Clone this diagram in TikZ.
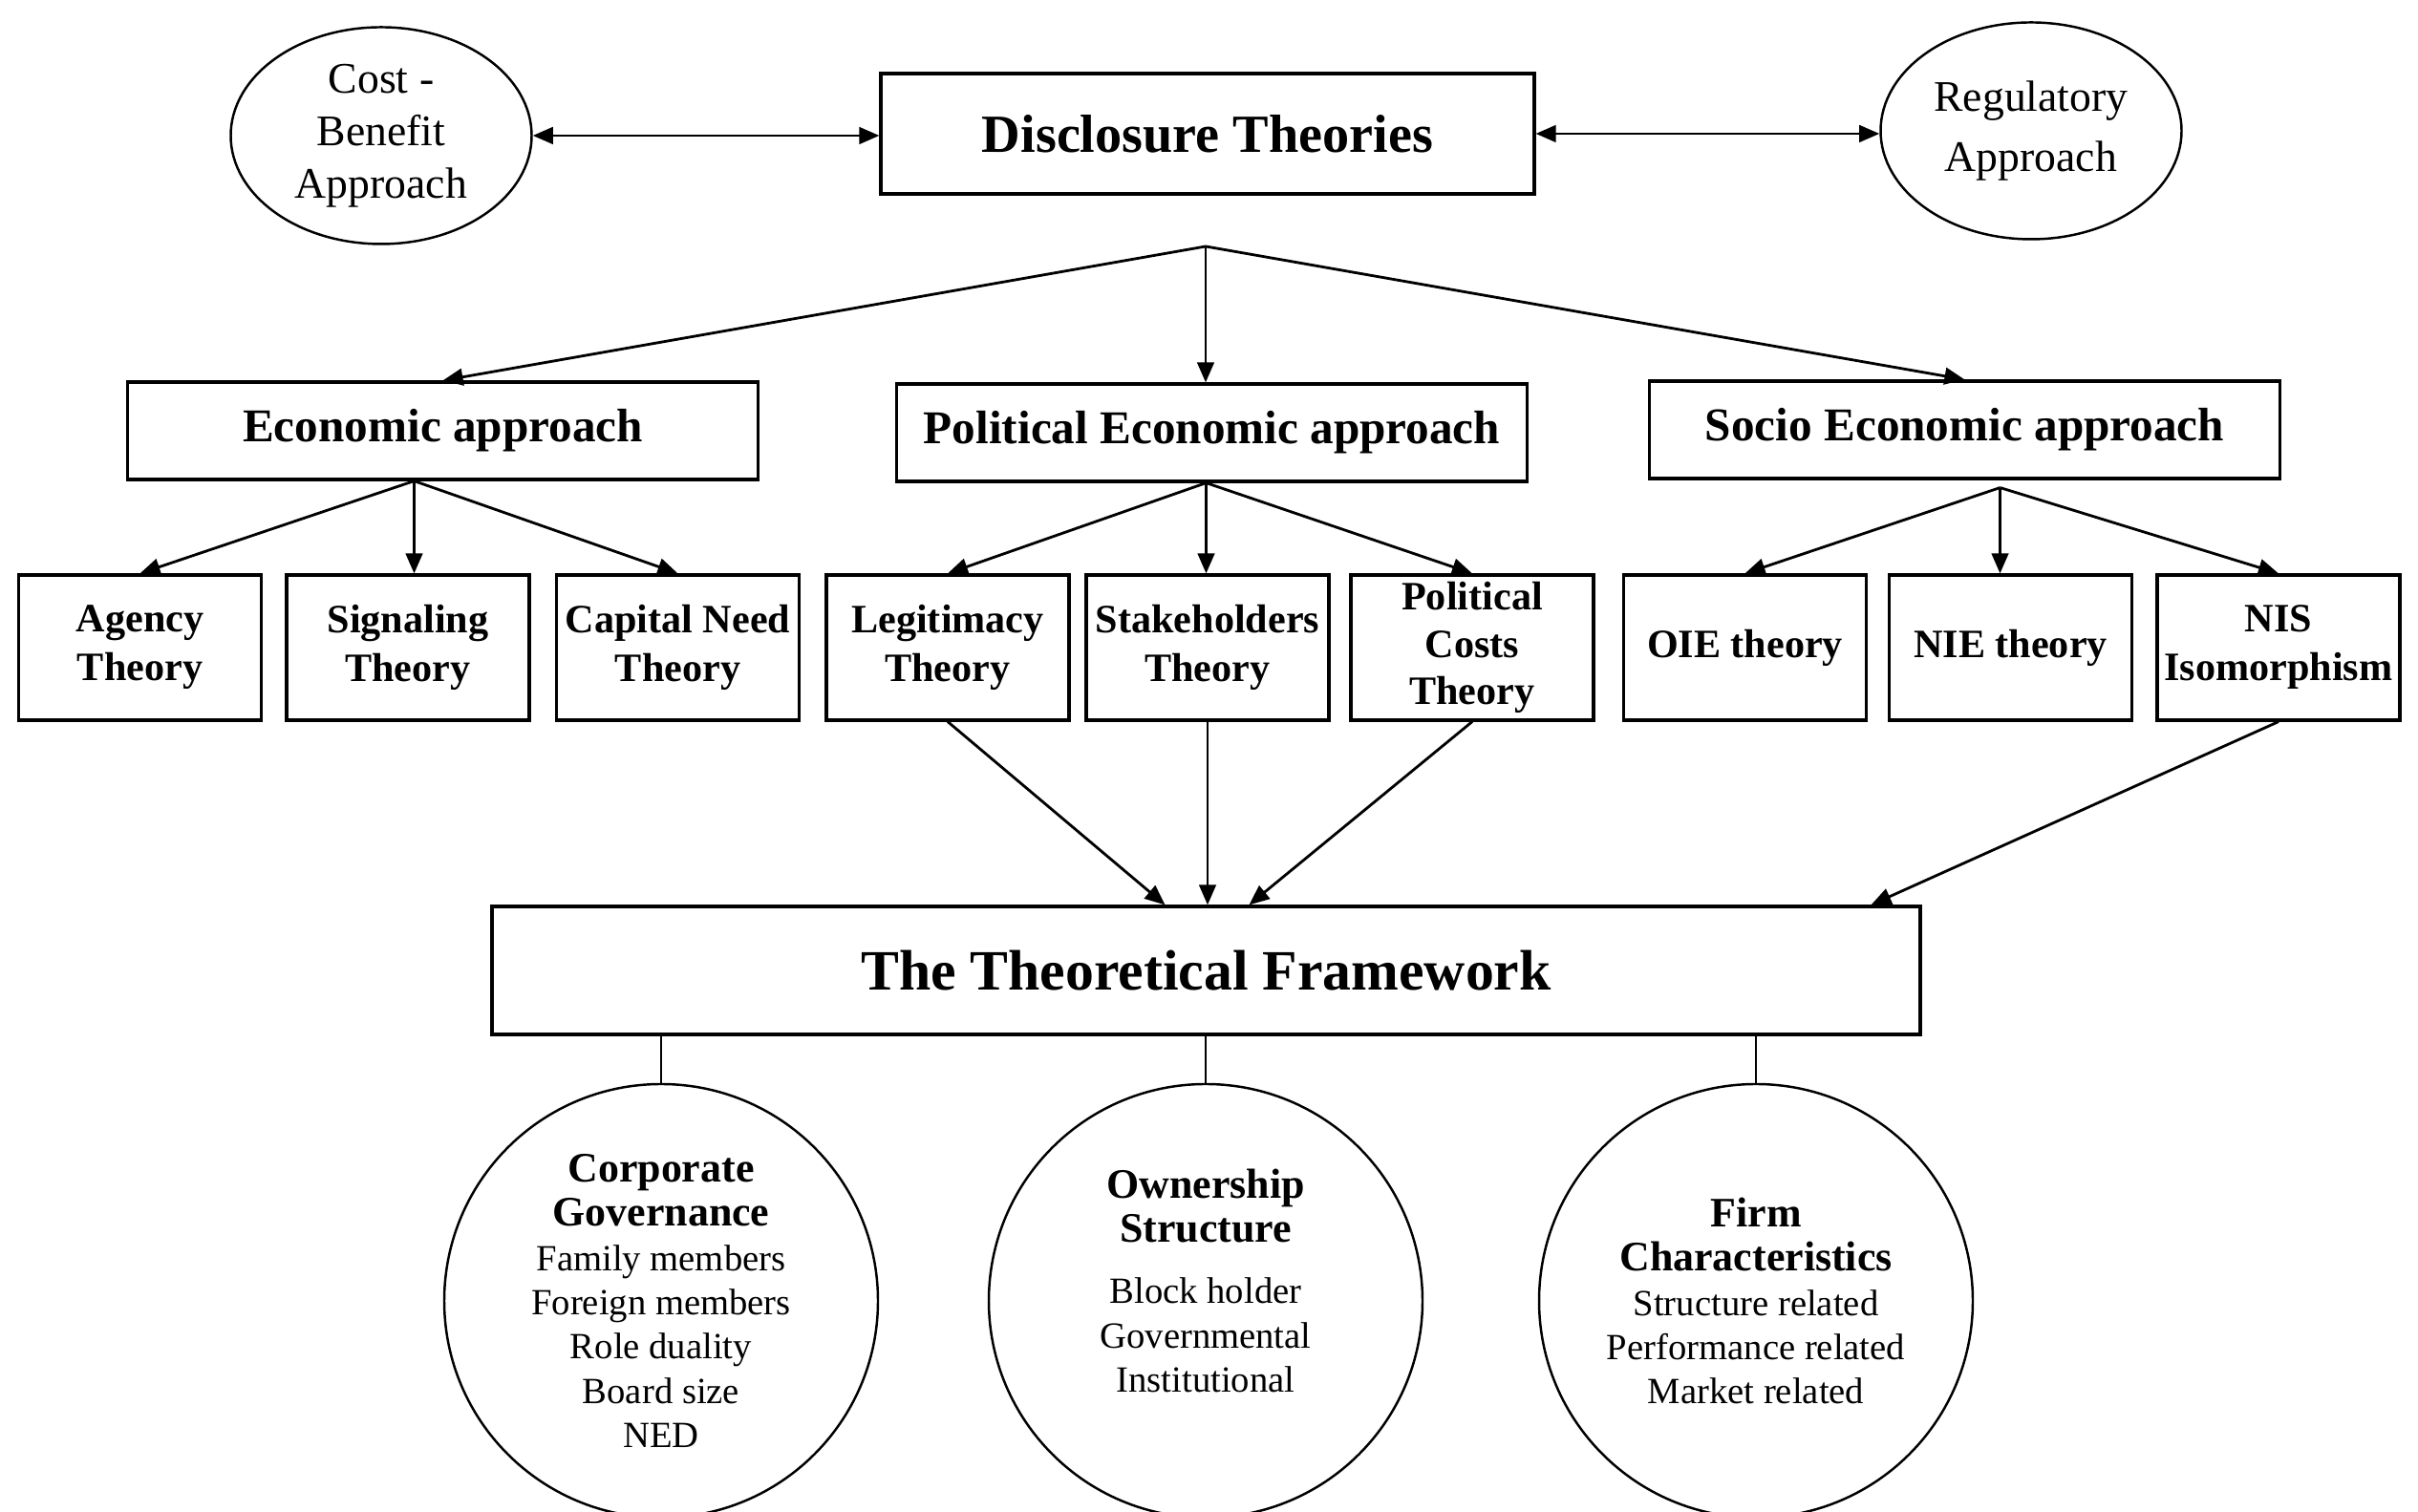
\documentclass[tikz,border=0pt]{standalone}
\usepackage{fontspec}
\setmainfont{Liberation Serif}
\usetikzlibrary{shapes.geometric,positioning,arrows.meta,calc}

\tikzset{
  topbox/.style={draw, line width=0.9pt, inner sep=0pt},
  apbox/.style={topbox, minimum width=6.6cm, minimum height=1.02cm, font=\fontsize{14}{16}\selectfont\bfseries},
  thbox/.style={topbox, minimum width=2.54cm, minimum height=1.52cm, align=center, font=\fontsize{12}{14.5}\selectfont\bfseries},
  oval/.style={draw, ellipse, line width=0.7pt, minimum width=3.15cm, minimum height=2.27cm, align=center, inner sep=0pt},
  bubble/.style={draw, circle, line width=0.7pt, minimum size=4.54cm, align=center, inner sep=0pt, font=\fontsize{11}{13.2}\selectfont},
  bubbletext/.style={align=center, inner sep=0pt, font=\fontsize{11}{13.2}\selectfont},
  arr/.style={-{Triangle[length=6pt,width=5pt]}, line width=0.8pt},
  darr/.style={{Triangle[length=6pt,width=5pt]}-{Triangle[length=6pt,width=5pt]}, line width=0.8pt},
}
\newcommand{\hdline}[1]{{\fontsize{12.5}{14.5}\selectfont\bfseries #1}}

\begin{document}
\begin{tikzpicture}
  \useasboundingbox (0,0) rectangle (25.31,15.83);
  \clip (0,0) rectangle (25.31,15.83);

  % top row
  \node[oval, font=\fontsize{13}{15.6}\selectfont] (cost) at (3.99,14.41) {Cost -\\Benefit\\Approach};
  \node[topbox, minimum width=6.84cm, minimum height=1.26cm, font=\fontsize{16}{19}\selectfont\bfseries] (disc) at (12.64,14.43) {Disclosure Theories};
  \node[oval, font=\fontsize{13}{18}\selectfont] (reg) at (21.26,14.46) {Regulatory\\Approach};
  \draw[darr] (cost.east) -- (cost.east -| disc.west);
  \draw[darr] (disc.east) -- (disc.east -| reg.west);

  % approaches
  \node[apbox] (econ) at (4.635,11.32) {Economic approach};
  \node[apbox] (pol) at (12.685,11.30) {Political Economic approach};
  \node[apbox] (soc) at (20.565,11.33) {Socio Economic approach};
  \coordinate (dsplit) at (12.62,13.25);
  \draw[arr] (dsplit) -- (econ.north);
  \draw[arr] (dsplit) -- (dsplit |- pol.north);
  \draw[arr] (dsplit) -- (soc.north);

  % theories
  \node[thbox] (agency) at (1.465,9.05) {Agency\\Theory};
  \node[thbox] (signal) at (4.27,9.05) {Signaling\\Theory};
  \node[thbox] (capital) at (7.095,9.05) {Capital Need\\Theory};
  \node[thbox] (legit) at (9.92,9.05) {Legitimacy\\Theory};
  \node[thbox] (stake) at (12.64,9.05) {Stakeholders\\Theory};
  \node[thbox, font=\fontsize{12}{14}\selectfont\bfseries] (pcost) at (15.41,9.05) {Political\\Costs\\Theory};
  \node[thbox] (oie) at (18.265,9.05) {OIE theory};
  \node[thbox] (nie) at (21.045,9.05) {NIE theory};
  \node[thbox] (nis) at (23.85,9.05) {NIS\\Isomorphism};

  \coordinate (esplit) at ($(econ.south)+(-0.3,0)$);
  \coordinate (psplit) at ($(pol.south)+(-0.06,0)$);
  \coordinate (ssplit) at ($(soc.south)+(0.37,-0.08)$);
  \draw[arr] (esplit) -- (agency.north);
  \draw[arr] (esplit) -- (esplit |- signal.north);
  \draw[arr] (esplit) -- (capital.north);
  \draw[arr] (psplit) -- (legit.north);
  \draw[arr] (psplit) -- (psplit |- stake.north);
  \draw[arr] (psplit) -- (pcost.north);
  \draw[arr] (ssplit) -- (oie.north);
  \draw[arr] (ssplit) -- (ssplit |- nie.north);
  \draw[arr] (ssplit) -- (nis.north);

  % framework
  \node[topbox, minimum width=14.95cm, minimum height=1.34cm, font=\fontsize{17}{20}\selectfont\bfseries] (frame) at (12.625,5.67) {The Theoretical Framework};
  \draw[arr] (legit.south) -- ($(frame.north)+(-0.43,0)$);
  \draw[arr] (stake.south) -- (stake.south |- frame.north);
  \draw[arr] (pcost.south) -- ($(frame.north)+(0.45,0)$);
  \draw[arr] (nis.south) -- ($(frame.north)+(6.96,0)$);

  % variables
  \node[bubble] (corp) at (6.92,2.21) {\hdline{Corporate}\\\hdline{Governance}\\Family members\\Foreign members\\Role duality\\Board size\\NED};
  \node[bubble] (own) at (12.62,2.21) {};
  \node[bubbletext] (owntext) at ($(own)+(0,0.21)$) {\hdline{Ownership}\\\hdline{Structure}\\[5pt]Block holder\\Governmental\\Institutional};
  \node[bubble] (firm) at (18.38,2.21) {\hdline{Firm}\\\hdline{Characteristics}\\Structure related\\Performance related\\Market related};
  \foreach \c in {corp,own,firm}
    \draw[line width=0.7pt] (\c.north) -- (\c.north |- frame.south);
\end{tikzpicture}
\end{document}
